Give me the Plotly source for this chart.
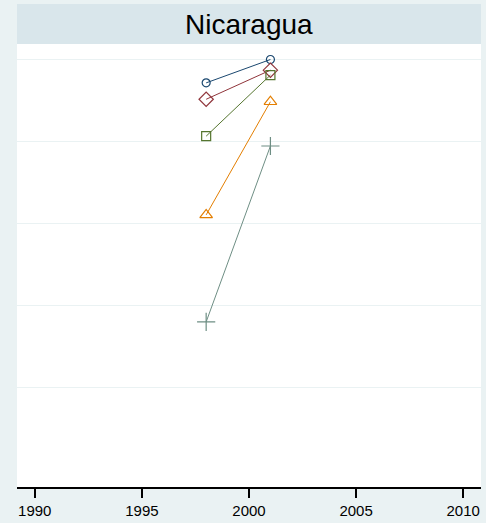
import plotly.graph_objects as go

years = [1998, 2001]
series_names = ["s1", "s2", "s3", "s4", "s5"]
s1 = [94.3, 100.0]
s2 = [90.3, 97.4]
s3 = [81.3, 96.2]
s4 = [62.1, 89.7]
s5 = [36.0, 78.9]
x_ticks = [1990, 1995, 2000, 2005, 2010]
y_grid = [20, 40, 60, 80, 100]
title_text = "Nicaragua"

colors = ["#1a476f", "#90353b", "#55752f", "#e37e00", "#6e8e84"]
symbols = ["circle-open", "diamond-open", "square-open", "triangle-up-open", "cross-thin-open"]
sizes = [8, 11, 9, 11, 13]

fig = go.Figure()
for name, vals, c, s, sz in zip(series_names, [s1, s2, s3, s4, s5], colors, symbols, sizes):
    fig.add_trace(go.Scatter(
        x=years, y=vals, mode="lines+markers", name=name,
        line=dict(color=c, width=1),
        marker=dict(symbol=s, size=sz, color=c, line=dict(color=c, width=1.2)),
        showlegend=False,
    ))

plot_h = 487 - 44
fig.update_layout(
    width=486, height=523,
    margin=dict(l=17, r=5, t=44, b=36),
    paper_bgcolor="#EAF2F3",
    plot_bgcolor="white",
    font=dict(family="Liberation Sans, Arial, sans-serif", color="black"),
    xaxis=dict(
        range=[1989.17, 2010.83], tickvals=x_ticks, ticktext=[str(t) for t in x_ticks],
        showgrid=False, zeroline=False, showline=True, linecolor="black", linewidth=1.5,
        ticks="outside", ticklen=9, tickwidth=2, tickcolor="black",
        tickfont=dict(size=15, color="black"),
    ),
    yaxis=dict(
        range=[-4.27, 103.78], tickvals=y_grid, showticklabels=False,
        showgrid=True, gridcolor="#EAF2F3", gridwidth=1.5, zeroline=False,
        showline=False, ticks="",
    ),
    shapes=[dict(
        type="rect", xref="paper", yref="paper",
        x0=0, x1=1, y0=1, y1=1 + 40 / plot_h,
        fillcolor="#D9E6EB", line=dict(width=0), layer="below",
    )],
    annotations=[dict(
        text=title_text, xref="paper", yref="paper", x=0.5, y=1 + 20 / plot_h,
        xanchor="center", yanchor="middle", showarrow=False,
        font=dict(size=28, color="black"),
    )],
)

fig.write_html(
    "out.html",
    config={"displayModeBar": False, "staticPlot": True},
    post_script="document.body.style.margin='0';document.body.style.padding='0';"
                "document.body.style.background='#EAF2F3';document.body.style.overflow='hidden';",
)
